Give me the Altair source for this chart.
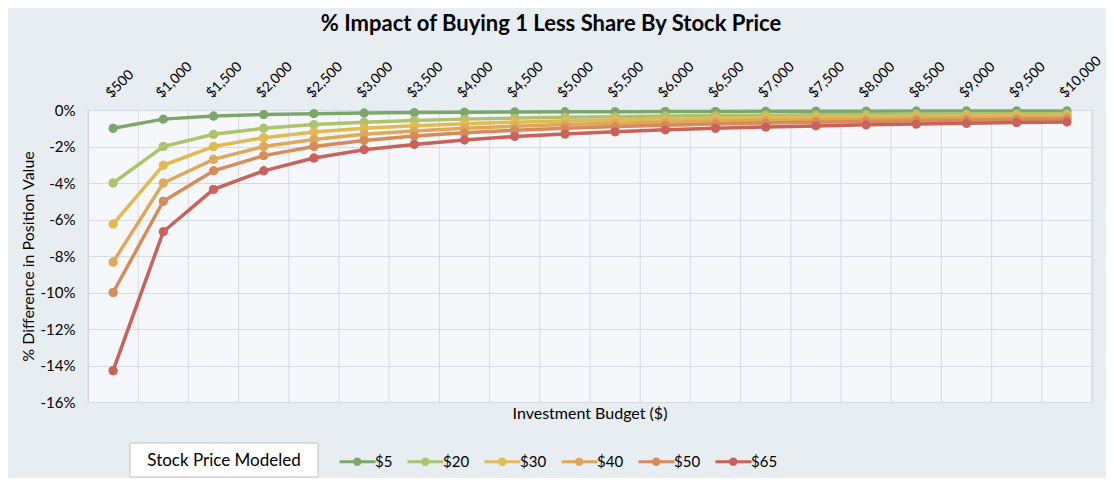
import altair as alt
import pandas as pd

FONT = "Lato"

budgets = [500, 1000, 1500, 2000, 2500, 3000, 3500, 4000, 4500, 5000,
           5500, 6000, 6500, 7000, 7500, 8000, 8500, 9000, 9500, 10000]
gridlines = [250, 750, 1250, 1750, 2250, 2750, 3250, 3750, 4250, 4750, 5250,
             5750, 6250, 6750, 7250, 7750, 8250, 8750, 9250, 9750, 10250]
prices = ["$5", "$20", "$30", "$40", "$50", "$65"]
colors = ["#7DA76A", "#AFC26C", "#E2BA52", "#DEA759", "#D68B58", "#C9625B"]
y_ticks = [0, -2, -4, -6, -8, -10, -12, -14, -16]

p5 = [-1.0, -0.5, -0.333, -0.25, -0.2, -0.167, -0.143, -0.125, -0.111, -0.1,
      -0.091, -0.083, -0.077, -0.071, -0.067, -0.063, -0.059, -0.056, -0.053, -0.05]
p20 = [-4.0, -2.0, -1.333, -1.0, -0.8, -0.667, -0.571, -0.5, -0.444, -0.4,
       -0.364, -0.333, -0.308, -0.286, -0.267, -0.25, -0.235, -0.222, -0.211, -0.2]
p30 = [-6.25, -3.03, -2.0, -1.515, -1.205, -1.0, -0.862, -0.752, -0.667, -0.602,
       -0.546, -0.5, -0.463, -0.429, -0.4, -0.376, -0.353, -0.333, -0.316, -0.3]
p40 = [-8.333, -4.0, -2.703, -2.0, -1.613, -1.333, -1.149, -1.0, -0.893, -0.8,
       -0.73, -0.667, -0.617, -0.571, -0.535, -0.5, -0.472, -0.444, -0.422, -0.4]
p50 = [-10.0, -5.0, -3.333, -2.5, -2.0, -1.667, -1.429, -1.25, -1.111, -1.0,
       -0.909, -0.833, -0.769, -0.714, -0.667, -0.625, -0.588, -0.556, -0.526, -0.5]
p65 = [-14.286, -6.667, -4.348, -3.333, -2.632, -2.174, -1.887, -1.639, -1.449, -1.316,
       -1.19, -1.087, -1.0, -0.935, -0.87, -0.813, -0.769, -0.725, -0.685, -0.654]
series = [p5, p20, p30, p40, p50, p65]

rows = []
for name, vals in zip(prices, series):
    for b, v in zip(budgets, vals):
        rows.append({"budget": b, "price": name, "pct": v})
df = pd.DataFrame(rows)

W, H = 1004, 292
GRID = "#D5DBE3"

xscale = alt.Scale(domain=[250, 10250], nice=False, zero=False)
x_enc = alt.X(
    "budget:Q", scale=xscale,
    axis=alt.Axis(orient="top", values=budgets,
                  labelExpr="'$' + format(datum.value, ',')",
                  labelAngle=-45, labelAlign="left", labelBaseline="bottom",
                  ticks=False, domain=False, grid=False, labelPadding=10,
                  labelFontSize=14, labelColor="#000000", labelFont=FONT,
                  title=None),
)
y_enc = alt.Y(
    "pct:Q", scale=alt.Scale(domain=[-16, 0], nice=False),
    axis=alt.Axis(values=y_ticks,
                  labelExpr="(datum.value < 0 ? '-' : '') + abs(datum.value) + '%'",
                  grid=True, gridColor=GRID, ticks=False, domain=False,
                  labelPadding=13, labelFontSize=15, labelColor="#000000",
                  labelFont=FONT,
                  title="% Difference in Position Value", titleX=-60, titleY=146,
                  titleBaseline="middle", titleFontSize=16, titleFontWeight="normal",
                  titleColor="#000000", titleFont=FONT),
)

# legend glyph: a thick line with a dot in the middle (arc-free outline)
legend_path = ("M-1,-0.32H1.76L1.81,-0.43L2.13,-0.74L2.55,-0.85L2.98,-0.74L3.29,-0.43"
               "L3.34,-0.32H6.2V0.32H3.34L3.29,0.43L2.98,0.74L2.55,0.85L2.13,0.74"
               "L1.81,0.43L1.76,0.32H-1Z")
legend = alt.Legend(
    orient="none", direction="horizontal", legendX=249, legendY=344,
    title=None, symbolType=legend_path, symbolSize=100,
    symbolStrokeWidth=0, symbolOpacity=1, labelOffset=23, columnPadding=12,
    labelFontSize=15, labelFont=FONT, labelColor="#000000",
)

grid_layer = alt.Chart(pd.DataFrame({"budget": gridlines})).mark_rule(
    color=GRID, strokeWidth=1
).encode(x=x_enc)

points = alt.Chart(df).mark_circle(size=80, opacity=1).encode(
    x=x_enc, y=y_enc,
    fill=alt.Fill("price:N", scale=alt.Scale(domain=prices, range=colors), legend=legend),
)

lines = alt.Chart(df).mark_line(strokeWidth=3.5).encode(
    x=x_enc, y=y_enc,
    stroke=alt.Stroke("price:N", scale=alt.Scale(domain=prices, range=colors), legend=None),
    detail="price:N",
)

note_df = pd.DataFrame({"t": ["Stock Price Modeled"]})
box = alt.Chart(note_df).mark_rect(fill="#FFFFFF", stroke="#BFBFBF", strokeWidth=1).encode(
    x=alt.value(42), x2=alt.value(230), y=alt.value(333), y2=alt.value(367)
)
box_text = alt.Chart(note_df).mark_text(
    font=FONT, fontSize=17, color="#000000", align="center", baseline="middle"
).encode(text="t:N", x=alt.value(136), y=alt.value(351))

xtitle_df = pd.DataFrame({"t": ["Investment Budget ($)"]})
xtitle = alt.Chart(xtitle_df).mark_text(
    font=FONT, fontSize=16, color="#000000", align="center", baseline="middle"
).encode(text="t:N", x=alt.value(502), y=alt.value(304))

chart = alt.layer(grid_layer, points, lines, points, box, box_text, xtitle).properties(
    width=W, height=H,
    title=alt.TitleParams(
        "% Impact of Buying 1 Less Share By Stock Price",
        fontSize=22, font=FONT, fontWeight="bold", color="#000000",
        anchor="middle", dx=-39, dy=-13,
    ),
    autosize=alt.AutoSizeParams(type="none"),
    padding={"left": 80, "top": 102, "right": 14, "bottom": 76},
    background="#E8EDF2",
).configure_view(
    fill="#F5F7FB", stroke="#C9CFD7", strokeWidth=1
)

chart.save("out.html", embed_options={"renderer": "svg", "actions": False})
